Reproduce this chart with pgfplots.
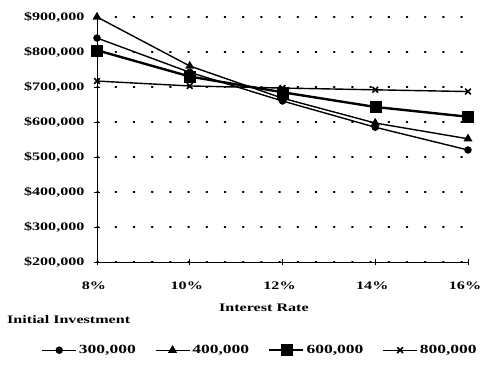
\documentclass[border=0pt]{standalone}
\usepackage{fontspec}
\setmainfont{Liberation Serif}[FakeStretch=1.4]
\usepackage{pgfplots}
\pgfplotsset{compat=1.18}
\begin{document}
\begin{tikzpicture}
\begin{axis}[
  scale only axis, width=371pt, height=245pt,
  xmin=8, xmax=16, ymin=200000, ymax=900000,
  axis x line*=bottom, axis y line*=left,
  axis line style={line width=0.9pt},
  xtick={8,10,12,14,16},
  xticklabels={8\%,10\%,12\%,14\%,16\%},
  ytick={200000,300000,400000,500000,600000,700000,800000,900000},
  yticklabels={\$200{,}000,\$300{,}000,\$400{,}000,\$500{,}000,\$600{,}000,\$700{,}000,\$800{,}000,\$900{,}000},
  scaled ticks=false,
  /pgf/number format/assume math mode=true,
  tick align=center, major tick length=6pt,
  tick style={black, line width=0.8pt},
  ymajorgrids,
  grid style={black, line width=1.4pt, dash pattern=on 1.2pt off 17pt, line cap=round},
  every tick label/.append style={font=\bfseries\fontsize{11.5}{13}\selectfont},
  yticklabel style={xshift=-6pt},
  xticklabel style={yshift=-13pt, xshift=-3pt},
  xlabel={Interest Rate},
  xlabel style={at={(axis description cs:0.45,0)}, anchor=north, yshift=-38pt, font=\bfseries\fontsize{11.5}{13}\selectfont},
  clip=false,
  legend columns=4,
  legend style={at={(axis description cs:-0.158,-0.36)}, anchor=west, draw=none, fill=none,
    font=\bfseries\fontsize{12.5}{14}\selectfont,
    nodes={inner xsep=2pt},
    /tikz/every even column/.append style={column sep=17pt}},
  legend image code/.code={\draw[mark repeat=2,mark phase=2] plot coordinates {(0pt,0pt) (17pt,0pt) (34pt,0pt)};},
]
\addplot[black, line width=1.4pt, mark=*, mark size=3pt] coordinates {(8,840000)(10,742000)(12,660000)(14,585000)(16,520000)};
\addlegendentry{300,000}
\addplot[black, line width=1.4pt, mark=triangle*, mark size=3.8pt] coordinates {(8,900000)(10,760000)(12,668000)(14,597000)(16,552000)};
\addlegendentry{400,000}
\addplot[black, line width=2.4pt, mark=square*, mark size=5.5pt, mark options={line width=0.5pt}] coordinates {(8,805000)(10,730000)(12,685000)(14,643000)(16,615000)};
\addlegendentry{600,000}
\addplot[black, line width=1.4pt, mark=x, mark size=4pt, mark options={line width=1.6pt}] coordinates {(8,717000)(10,703000)(12,697000)(14,692000)(16,687000)};
\addlegendentry{800,000}
\end{axis}
\node[anchor=west, font=\bfseries\fontsize{11.5}{13}\selectfont, inner sep=0pt] at (-90pt,-58pt) {Initial Investment};
\pgfresetboundingbox
\useasboundingbox (-97pt,-102pt) rectangle (384pt,262pt);
\end{tikzpicture}
\end{document}
